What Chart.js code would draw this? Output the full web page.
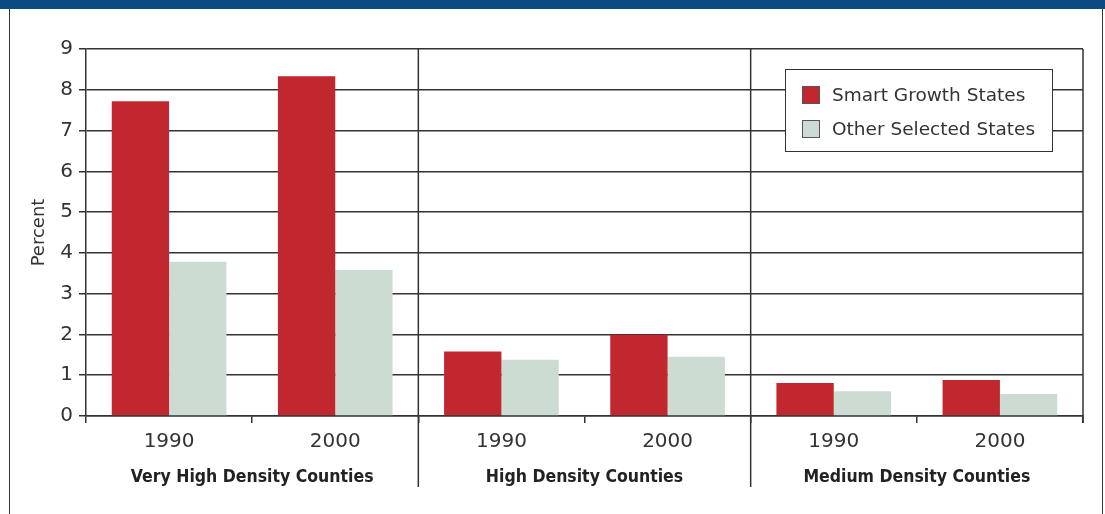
<!DOCTYPE html>
<html>
<head>
<meta charset="utf-8">
<script src="https://cdn.jsdelivr.net/npm/chart.js@4/dist/chart.umd.min.js"></script>
<style>
  html, body { margin: 0; padding: 0; background: #fff; }
  #wrap { position: relative; width: 1105px; height: 514px; overflow: hidden; }
  #band { position: absolute; left: 0; top: 0; width: 1105px; height: 9px; background: #0b4a82; }
  #frame { position: absolute; left: 9px; top: 9px; width: 1094px; height: 520px;
           border-left: 1.5px solid #333; border-right: 1.5px solid #333; box-sizing: border-box; }
  #chart { position: absolute; left: 0; top: 0; }
</style>
</head>
<body>
<div id="wrap">
  <div id="band"></div>
  <div id="frame"></div>
  <canvas id="chart" width="1105" height="514"></canvas>
</div>
<script>
  // year labels, one per bar pair
  const years = ["1990", "2000", "1990", "2000", "1990", "2000"];
  // county groups, two years each
  const groups = ["Very High Density Counties", "High Density Counties", "Medium Density Counties"];
  const smartGrowth = [7.72, 8.33, 1.58, 1.99, 0.81, 0.88];
  const otherStates = [3.78, 3.58, 1.38, 1.45, 0.61, 0.54];
  const yTicks = [0, 1, 2, 3, 4, 5, 6, 7, 8, 9];

  const INK = "#333";
  const RED = "#c1272e";
  const GREY = "#ccdcd3";
  const FONT = "'DejaVu Sans', sans-serif";

  // divider lines between groups, right border, group names, legend box
  const groupPlugin = {
    id: "groupPlugin",
    afterDraw(chart) {
      const { ctx, chartArea: a, scales: { x } } = chart;
      ctx.save();
      ctx.strokeStyle = INK;
      ctx.lineWidth = 1.5;
      // right edge of the plot
      ctx.beginPath();
      ctx.moveTo(a.right, a.top);
      ctx.lineTo(a.right, a.bottom + 7);
      ctx.stroke();
      for (let g = 0; g < groups.length; g++) {
        if (g > 0) {
          const xd = (x.getPixelForValue(g * 2 - 1) + x.getPixelForValue(g * 2)) / 2;
          ctx.beginPath();
          ctx.moveTo(xd, a.top);
          ctx.lineTo(xd, 487);
          ctx.stroke();
        }
        const xc = (x.getPixelForValue(g * 2) + x.getPixelForValue(g * 2 + 1)) / 2;
        ctx.fillStyle = "#222";
        ctx.font = "bold 17.5px 'DejaVu Sans Condensed', 'DejaVu Sans', sans-serif";
        ctx.textAlign = "center";
        ctx.textBaseline = "alphabetic";
        ctx.fillText(groups[g], xc, 482);
      }

      // legend
      const lx = a.right - 298, ly = a.top + 20, lw = 267, lh = 82;
      ctx.fillStyle = "#fff";
      ctx.fillRect(lx, ly, lw, lh);
      ctx.lineWidth = 1;
      ctx.strokeRect(lx + 0.5, ly + 0.5, lw, lh);
      chart.data.datasets.forEach((ds, i) => {
        const sy = ly + 17 + i * 34;
        ctx.fillStyle = ds.backgroundColor;
        ctx.fillRect(lx + 17, sy, 18, 18);
        ctx.strokeStyle = "#555";
        ctx.strokeRect(lx + 17.5, sy + 0.5, 17, 17);
        ctx.fillStyle = INK;
        ctx.font = "18.5px " + FONT;
        ctx.textAlign = "left";
        ctx.textBaseline = "middle";
        ctx.fillText(ds.label, lx + 47, sy + 10);
      });
      ctx.restore();
    }
  };

  new Chart(document.getElementById("chart"), {
    type: "bar",
    data: {
      labels: years,
      datasets: [
        { label: "Smart Growth States", data: smartGrowth, backgroundColor: RED },
        { label: "Other Selected States", data: otherStates, backgroundColor: GREY },
      ],
    },
    options: {
      responsive: false,
      animation: false,
      layout: { padding: { top: 49, right: 22, left: 0, bottom: 0 } },
      datasets: { bar: { categoryPercentage: 0.69, barPercentage: 1.0, borderWidth: 0 } },
      plugins: { legend: { display: false }, tooltip: { enabled: false } },
      scales: {
        x: {
          afterFit: (s) => { s.height = 98; },
          grid: { offset: true, drawOnChartArea: false, color: INK, lineWidth: 1.5, tickLength: 7 },
          border: { color: INK, width: 1.5 },
          ticks: { color: INK, font: { family: FONT, size: 20 }, padding: 7 },
        },
        y: {
          min: 0,
          max: 9,
          afterFit: (s) => { s.width = 86; },
          afterBuildTicks: (s) => { s.ticks = yTicks.map((v) => ({ value: v })); },
          grid: { color: INK, lineWidth: 1.5, tickLength: 7 },
          border: { color: INK, width: 1.5 },
          ticks: { color: INK, font: { family: FONT, size: 20 }, padding: 6 },
          title: { display: true, text: "Percent", color: INK, font: { family: FONT, size: 18 }, padding: { top: 29 } },
        },
      },
    },
    plugins: [groupPlugin],
  });
</script>
</body>
</html>
